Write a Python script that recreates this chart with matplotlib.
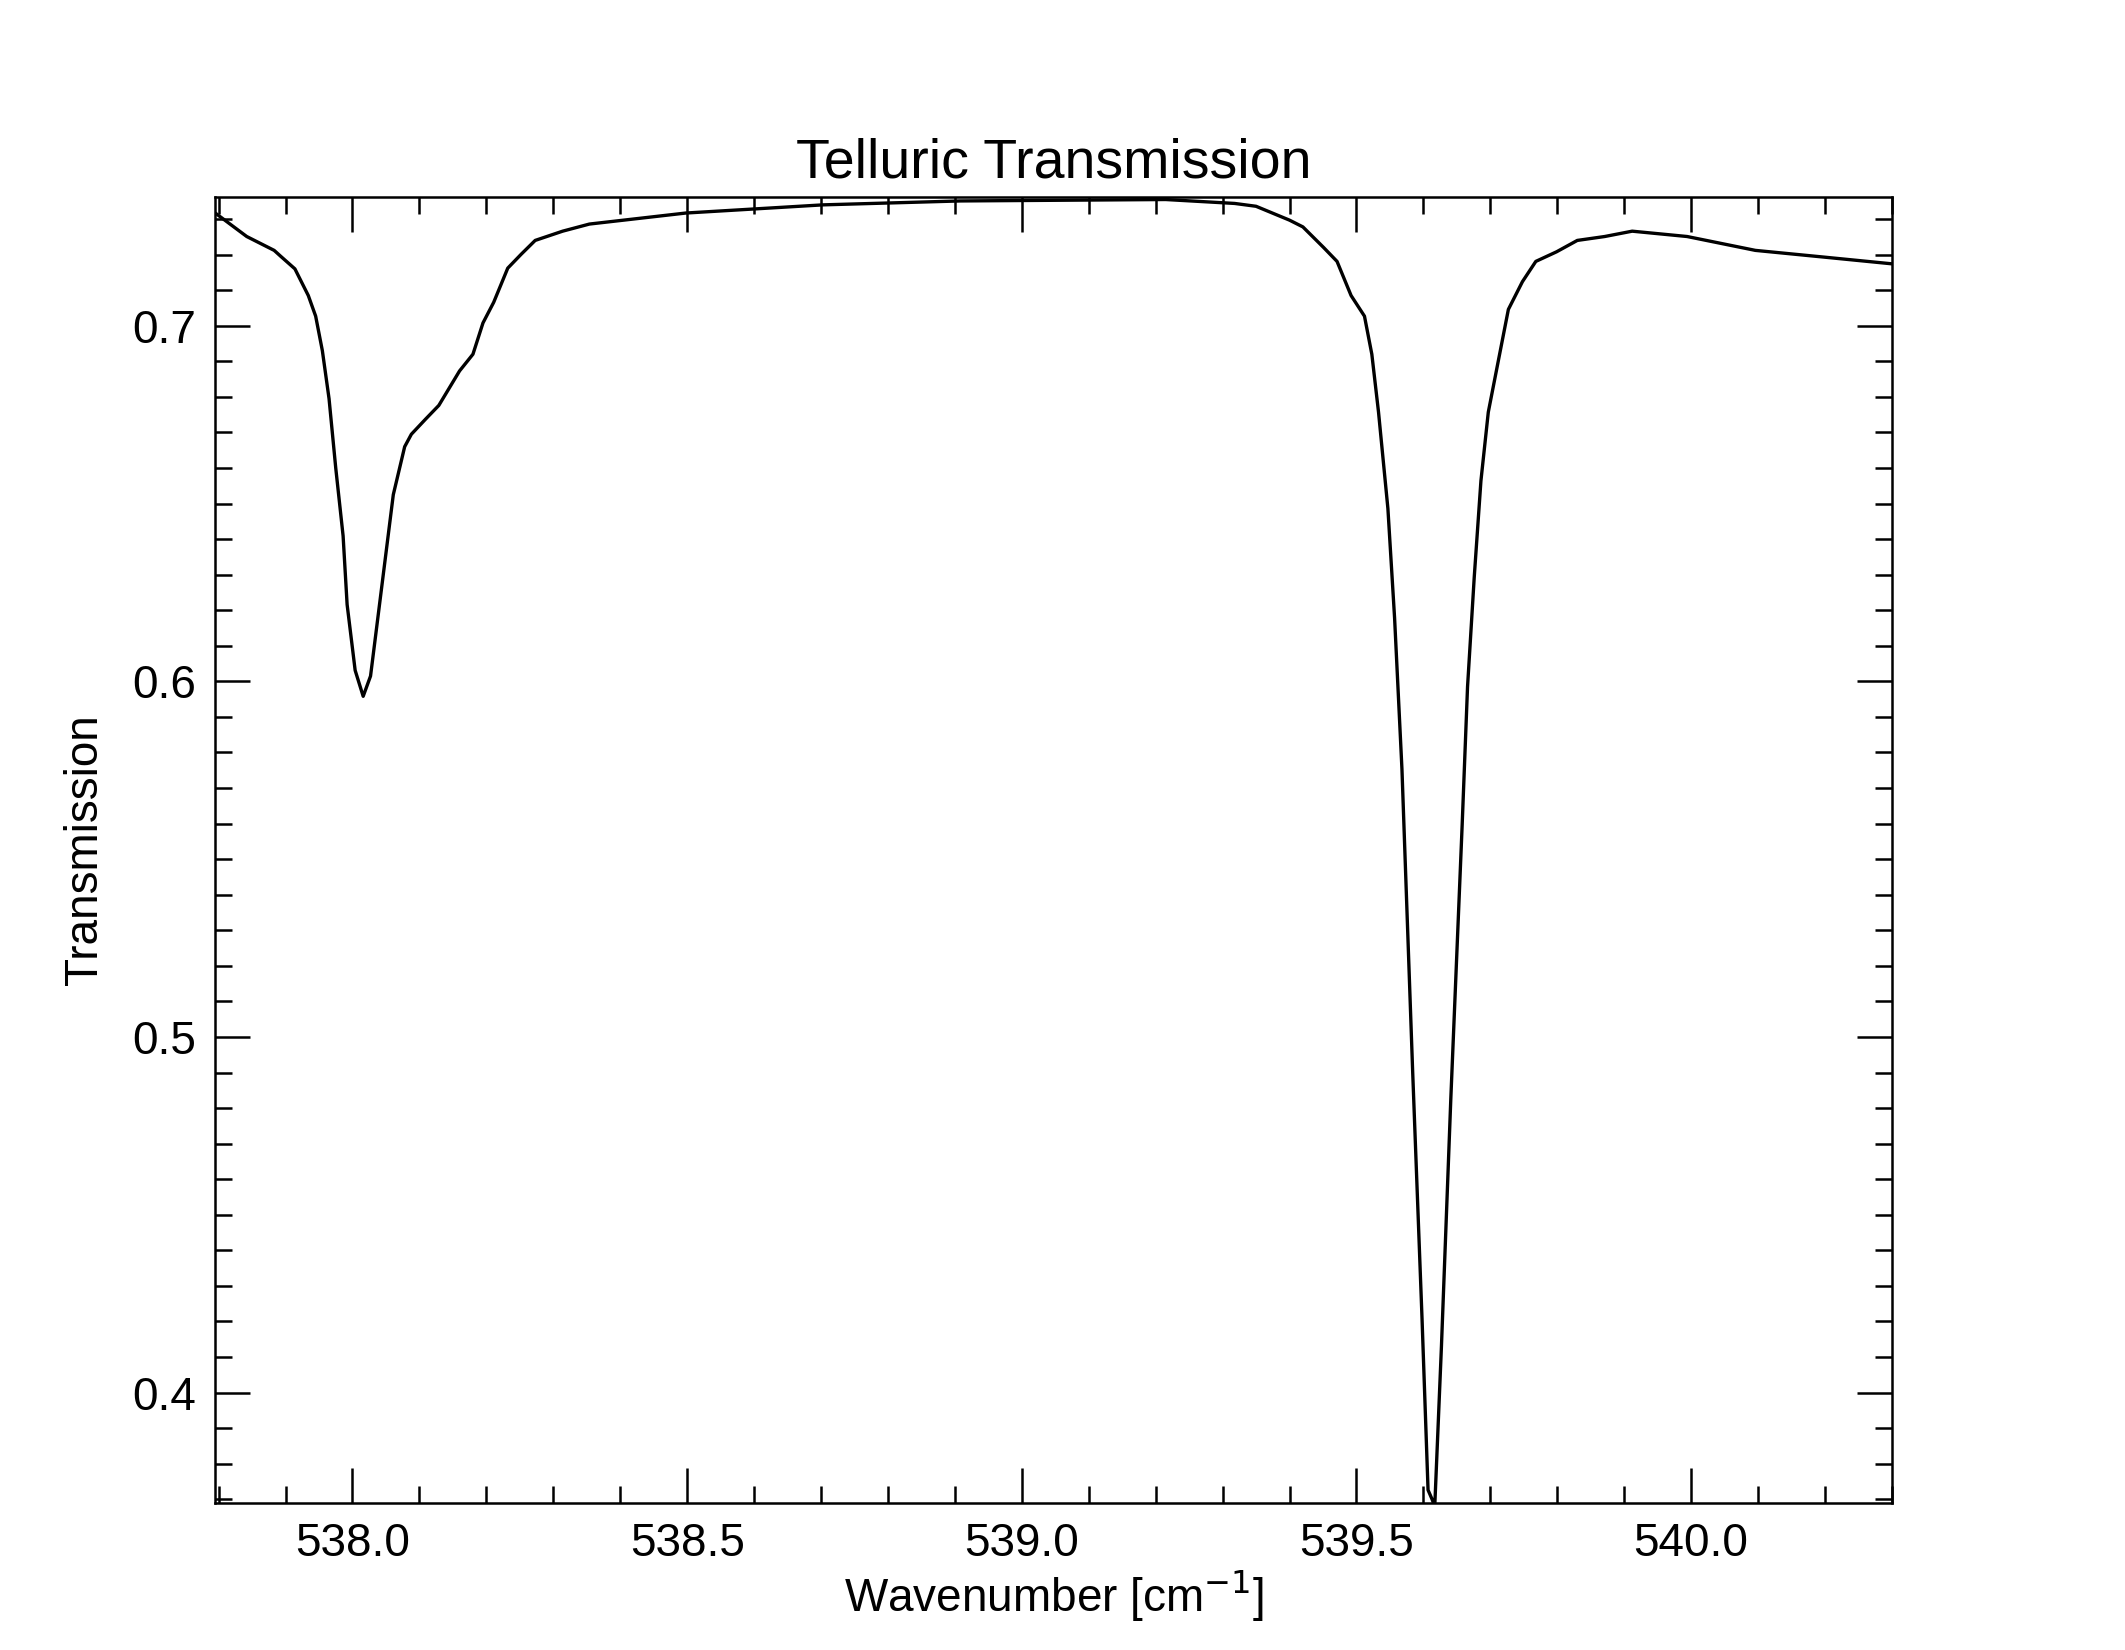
import matplotlib
matplotlib.use("Agg")
import matplotlib.pyplot as plt
from matplotlib.ticker import MultipleLocator, FormatStrFormatter

wavenumber = [537.795, 537.842, 537.883, 537.893, 537.914, 537.934, 537.945, 537.955, 537.965,
              537.975, 537.986, 537.992, 538.004, 538.016, 538.027, 538.043, 538.061, 538.078,
              538.088, 538.109, 538.129, 538.160, 538.180, 538.195, 538.211, 538.232, 538.252,
              538.273, 538.314, 538.354, 538.498, 538.703, 538.908, 539.215, 539.318, 539.350,
              539.400, 539.420, 539.451, 539.471, 539.492, 539.512, 539.523, 539.533, 539.547,
              539.557, 539.568, 539.584, 539.598, 539.607, 539.613, 539.617, 539.627, 539.641,
              539.658, 539.666, 539.676, 539.686, 539.697, 539.711, 539.727, 539.748, 539.768,
              539.799, 539.830, 539.871, 539.912, 539.994, 540.096, 540.199, 540.301]
transmission = [0.7317, 0.7251, 0.7212, 0.7195, 0.7160, 0.7085, 0.7027, 0.6930, 0.6795,
                0.6600, 0.6409, 0.6216, 0.6031, 0.5958, 0.6015, 0.6255, 0.6525, 0.6660,
                0.6695, 0.6737, 0.6776, 0.6873, 0.6920, 0.7008, 0.7066, 0.7162, 0.7201,
                0.7240, 0.7266, 0.7286, 0.7317, 0.7340, 0.7351, 0.7355, 0.7344, 0.7336,
                0.7297, 0.7278, 0.7220, 0.7181, 0.7085, 0.7027, 0.6920, 0.6757, 0.6486,
                0.6178, 0.5753, 0.4903, 0.4208, 0.3726, 0.3700, 0.3680, 0.4130, 0.4826,
                0.5598, 0.5985, 0.6293, 0.6564, 0.6757, 0.6892, 0.7046, 0.7124, 0.7181,
                0.7208, 0.7240, 0.7251, 0.7266, 0.7251, 0.7212, 0.7193, 0.7174]

plt.rcParams['font.family'] = ['Liberation Sans', 'DejaVu Sans']
fig = plt.figure(figsize=(21.25, 16.5), dpi=100)
ax = fig.add_axes([0.1013, 0.0892, 0.789, 0.7916])
ax.plot(wavenumber, transmission, color='black', lw=2.4)
ax.set_xlim(537.795, 540.30)
ax.set_ylim(0.369, 0.7363)
ax.xaxis.set_major_locator(MultipleLocator(0.5))
ax.xaxis.set_minor_locator(MultipleLocator(0.1))
ax.yaxis.set_major_locator(MultipleLocator(0.1))
ax.yaxis.set_minor_locator(MultipleLocator(0.01))
ax.xaxis.set_major_formatter(FormatStrFormatter('%.1f'))
ax.yaxis.set_major_formatter(FormatStrFormatter('%.1f'))
ax.tick_params(which='both', direction='in', top=True, right=True, labelsize=33, width=1.8)
ax.tick_params(which='major', length=25, pad=14)
ax.tick_params(which='minor', length=12)
for s in ax.spines.values():
    s.set_linewidth(1.8)
ax.set_xlabel('Wavenumber [cm$^{-1}$]', fontsize=33, labelpad=2)
ax.set_ylabel('Transmission', fontsize=33, labelpad=18)
ax.set_title('Telluric Transmission', fontsize=40, pad=14)
fig.savefig('out.png', dpi=100)
